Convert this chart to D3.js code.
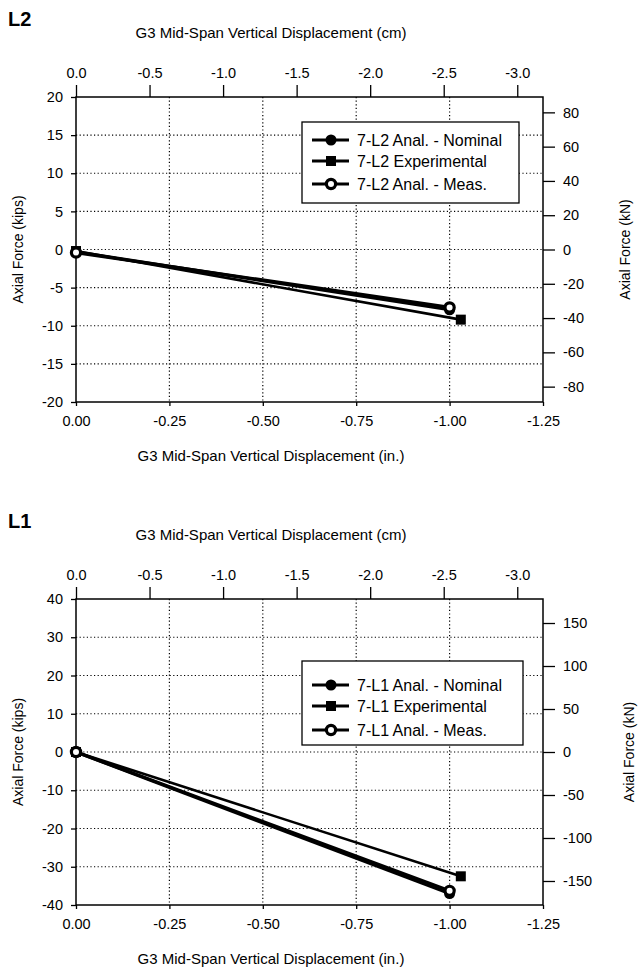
<!DOCTYPE html>
<html>
<head>
<meta charset="utf-8">
<script src="https://cdn.jsdelivr.net/npm/d3@7"></script>
<style>
  body { margin: 0; background: #fff; }
  svg { font-family: "Liberation Sans", Arial, Helvetica, sans-serif; }
  .tick text { font-size: 14.5px; fill: #000; }
  .tick line { stroke: #000; stroke-width: 1.3; }
</style>
</head>
<body>
<div id="chart"></div>
<script>
// tick values
var inchTicks = [0, -0.25, -0.5, -0.75, -1.0, -1.25];
var cmTicks = [0, -0.5, -1.0, -1.5, -2.0, -2.5, -3.0];
var l2KipTicks = [20, 15, 10, 5, 0, -5, -10, -15, -20];
var l2KnTicks = [80, 60, 40, 20, 0, -20, -40, -60, -80];
var l1KipTicks = [40, 30, 20, 10, 0, -10, -20, -30, -40];
var l1KnTicks = [150, 100, 50, 0, -50, -100, -150];

// series: [displacement (in.), axial force (kips)]
var l2Nominal = [[0, -0.3], [-1.0, -7.9]];
var l2Experimental = [[0, -0.2], [-1.03, -9.2]];
var l2Measured = [[0, -0.4], [-1.0, -7.6]];
var l1Nominal = [[0, 0], [-1.0, -37.0]];
var l1Experimental = [[0, 0], [-1.03, -32.5]];
var l1Measured = [[0, 0], [-1.0, -36.3]];

var IN_TO_CM = 2.54;
var KIP_TO_KN = 4.448;

var svg = d3.select("#chart").append("svg")
    .attr("width", 642)
    .attr("height", 972);

var margin = { left: 76, width: 467 };

function fmt(n) {
    return function (d) { return d.toFixed(n); };
}

function drawPanel(cfg) {
    var w = margin.width, h = cfg.height;
    var g = svg.append("g").attr("transform", "translate(" + margin.left + "," + cfg.top + ")");

    var x = d3.scaleLinear().domain([0, -1.25]).range([0, w]);
    var xcm = d3.scaleLinear().domain([0, -1.25 * IN_TO_CM]).range([0, w]);
    var y = d3.scaleLinear().domain([-cfg.ymax, cfg.ymax]).range([h, 0]);
    var ykn = d3.scaleLinear().domain([-cfg.ymax * KIP_TO_KN, cfg.ymax * KIP_TO_KN]).range([h, 0]);

    // dotted grid
    g.append("g").selectAll("line").data(inchTicks.slice(1, -1)).enter().append("line")
        .attr("x1", function (d) { return x(d); })
        .attr("x2", function (d) { return x(d); })
        .attr("y1", 0).attr("y2", h)
        .attr("stroke", "#000").attr("stroke-width", 1.2).attr("stroke-dasharray", "1.2,2.4");
    g.append("g").selectAll("line").data(cfg.kipTicks.slice(1, -1)).enter().append("line")
        .attr("x1", 0).attr("x2", w)
        .attr("y1", function (d) { return y(d); })
        .attr("y2", function (d) { return y(d); })
        .attr("stroke", "#000").attr("stroke-width", 1.2).attr("stroke-dasharray", "1.2,2.4");

    // axes
    var top = g.append("g")
        .call(d3.axisTop(xcm).tickValues(cmTicks).tickFormat(fmt(1)).tickSize(12).tickPadding(7));
    var bottom = g.append("g").attr("transform", "translate(0," + h + ")")
        .call(d3.axisBottom(x).tickValues(inchTicks).tickFormat(fmt(2)).tickSize(4).tickPadding(10));
    var left = g.append("g")
        .call(d3.axisLeft(y).tickValues(cfg.kipTicks).tickFormat(d3.format("d")).tickSize(5).tickPadding(8));
    var right = g.append("g").attr("transform", "translate(" + w + ",0)")
        .call(d3.axisRight(ykn).tickValues(cfg.knTicks).tickFormat(function (d) { return String(d); }).tickSize(12).tickPadding(8));
    [top, bottom, left, right].forEach(function (a) {
        a.select(".domain").remove();
        a.selectAll("text").text(function (d) { return this.textContent.replace("\u2212", "-"); });
    });

    g.append("rect").attr("width", w).attr("height", h)
        .attr("fill", "none").attr("stroke", "#000").attr("stroke-width", 1.5);

    // titles
    svg.append("text").attr("x", 8).attr("y", cfg.top - 71)
        .attr("font-size", 20).attr("font-weight", "bold").text(cfg.name);
    svg.append("text").attr("x", 271).attr("y", cfg.top - 59)
        .attr("text-anchor", "middle").attr("font-size", 15)
        .text("G3 Mid-Span Vertical Displacement (cm)");
    svg.append("text").attr("x", 271).attr("y", cfg.top + h + 59)
        .attr("text-anchor", "middle").attr("font-size", 15)
        .text("G3 Mid-Span Vertical Displacement (in.)");
    svg.append("text")
        .attr("transform", "translate(23," + (cfg.top + h / 2) + ") rotate(-90)")
        .attr("text-anchor", "middle").attr("font-size", 14)
        .text("Axial Force (kips)");
    svg.append("text")
        .attr("transform", "translate(" + cfg.knLabelX + "," + (cfg.top + h / 2) + ") rotate(-90)")
        .attr("text-anchor", "middle").attr("font-size", 14)
        .text("Axial Force (kN)");

    // series
    var line = d3.line().x(function (d) { return x(d[0]); }).y(function (d) { return y(d[1]); });
    var series = [
        { name: cfg.id + " Anal. - Nominal", data: cfg.nominal, width: 3.2, marker: "circle" },
        { name: cfg.id + " Experimental", data: cfg.experimental, width: 2.6, marker: "square" },
        { name: cfg.id + " Anal. - Meas.", data: cfg.measured, width: 3.2, marker: "open" }
    ];
    series.forEach(function (s) {
        g.append("path").datum(s.data).attr("d", line)
            .attr("fill", "none").attr("stroke", "#000").attr("stroke-width", s.width);
    });
    function marker(sel, type) {
        if (type === "square") {
            sel.append("rect").attr("x", -5).attr("y", -5).attr("width", 10).attr("height", 10).attr("fill", "#000");
        } else if (type === "circle") {
            sel.append("circle").attr("r", 5.5).attr("fill", "#000");
        } else {
            sel.append("circle").attr("r", 4.6).attr("fill", "#fff").attr("stroke", "#000").attr("stroke-width", 3.2);
        }
    }
    series.forEach(function (s) {
        s.data.forEach(function (d) {
            var m = g.append("g").attr("transform", "translate(" + x(d[0]) + "," + y(d[1]) + ")");
            marker(m, s.marker);
        });
    });

    // legend
    var lg = svg.append("g").attr("transform", "translate(" + cfg.legend[0] + "," + cfg.legend[1] + ")");
    lg.append("rect").attr("width", cfg.legend[2]).attr("height", cfg.legend[3])
        .attr("fill", "#fff").attr("stroke", "#000").attr("stroke-width", 1.3);
    series.forEach(function (s, i) {
        var ry = cfg.legendRows[i];
        lg.append("line").attr("x1", 10).attr("x2", 47).attr("y1", ry).attr("y2", ry)
            .attr("stroke", "#000").attr("stroke-width", 3);
        marker(lg.append("g").attr("transform", "translate(29," + ry + ")"), s.marker);
        lg.append("text").attr("x", 55).attr("y", ry + 5.5).attr("font-size", 16).text(s.name);
    });
}

drawPanel({
    name: "L2", id: "7-L2", top: 97, height: 305, ymax: 20,
    kipTicks: l2KipTicks, knTicks: l2KnTicks, knLabelX: 630,
    nominal: l2Nominal, experimental: l2Experimental, measured: l2Measured,
    legend: [302, 122, 217, 81], legendRows: [18, 39, 62]
});
drawPanel({
    name: "L1", id: "7-L1", top: 599, height: 306, ymax: 40,
    kipTicks: l1KipTicks, knTicks: l1KnTicks, knLabelX: 634,
    nominal: l1Nominal, experimental: l1Experimental, measured: l1Measured,
    legend: [302, 661, 221, 84], legendRows: [24, 45, 69]
});
</script>
</body>
</html>
